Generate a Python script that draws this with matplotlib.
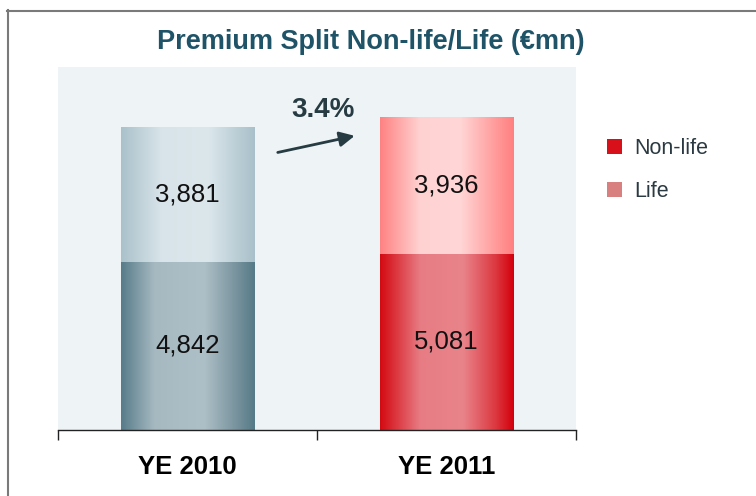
import numpy as np
import matplotlib
matplotlib.use('Agg')
import matplotlib.pyplot as plt
from matplotlib.colors import to_rgb
from matplotlib.patches import Patch
from matplotlib.lines import Line2D

# Data (EUR mn)
years = ['YE 2010', 'YE 2011']
non_life = [4842, 5081]
life = [3881, 3936]
series_names = ['Non-life', 'Life']

TITLE = 'Premium Split Non-life/Life (€mn)'
NARROW = ['Liberation Sans Narrow', 'Liberation Sans', 'DejaVu Sans']
SANS = ['Liberation Sans', 'DejaVu Sans']

# Gradient stops for the cylinder look (position, colour)
GRAD = {
    (0, 0): [(0, '#587C8A'), (0.25, '#A6B9C1'), (0.62, '#AEC0C7'), (0.85, '#7B95A0'), (1, '#567A88')],
    (0, 1): [(0, '#AAC1CB'), (0.3, '#D8E4E9'), (0.65, '#DCE7EC'), (0.88, '#B9CDD5'), (1, '#A9C0CA')],
    (1, 0): [(0, '#D30A12'), (0.3, '#E77C84'), (0.62, '#E9848B'), (0.86, '#DC3A42'), (1, '#D3000C')],
    (1, 1): [(0, '#FF8282'), (0.3, '#FFD2D2'), (0.6, '#FFD6D6'), (0.86, '#FF9C9C'), (1, '#FF8080')],
}
LEGEND_COLORS = ['#D7101A', '#D88080']


def gradient(stops, n=200):
    pos = [p for p, _ in stops]
    cols = np.array([to_rgb(c) for _, c in stops])
    t = np.linspace(0, 1, n)
    row = np.stack([np.interp(t, pos, cols[:, k]) for k in range(3)], axis=-1)
    return row[np.newaxis, :, :]


fig = plt.figure(figsize=(7.56, 4.96), dpi=100)
ax = fig.add_axes([58 / 756, 66 / 496, 518 / 756, 363 / 496])
ax.set_facecolor('#EEF3F6')

x = np.arange(len(years))
width = 0.515
b1 = ax.bar(x, non_life, width, color='none', edgecolor='none')
b2 = ax.bar(x, life, width, bottom=non_life, color='none', edgecolor='none')

# paint each bar segment with a horizontal gradient (cylinder effect)
for s, cont in enumerate([b1, b2]):
    for i, p in enumerate(cont.patches):
        x0, y0 = p.get_x(), p.get_y()
        ax.imshow(gradient(GRAD[(i, s)]), extent=[x0, x0 + p.get_width(), y0, y0 + p.get_height()],
                  aspect='auto', interpolation='bilinear', zorder=2)

for cont in [b1, b2]:
    texts = ax.bar_label(cont, labels=[f'{v:,.0f}' for v in cont.datavalues],
                         label_type='center', fontsize=18.5, family=SANS, color='#111111')
    for t in texts:
        t.set_zorder(5)

ax.set_xlim(-0.5, 1.5)
ax.set_ylim(0, 10450)
ax.set_aspect('auto')

# growth arrow
totals = [a + b for a, b in zip(non_life, life)]
growth = (totals[1] / totals[0] - 1) * 100
ax.annotate('', xy=(0.578, 0.812), xytext=(0.419, 0.763), xycoords='axes fraction',
            arrowprops=dict(arrowstyle='-|>,head_length=0.9,head_width=0.45', color='#263B42', lw=2),
            zorder=6)
ax.text(0.512, 0.882, f'{growth:.1f}%', transform=ax.transAxes, ha='center', va='center',
        fontsize=20, fontweight='bold', family=SANS, color='#263B42')

for sp in ['top', 'right', 'left']:
    ax.spines[sp].set_visible(False)
ax.spines['bottom'].set_color('#222222')
ax.spines['bottom'].set_linewidth(1)
ax.set_yticks([])
ax.set_xticks(x)
ax.set_xticklabels(years, fontsize=18.5, fontweight='bold', family=NARROW)
ax.tick_params(axis='x', which='major', length=0, pad=18)
ax.set_xticks([-0.5, 0.5, 1.5], minor=True)
ax.tick_params(axis='x', which='minor', length=7, width=1, color='#222222', direction='out')

handles = [Patch(facecolor=c, edgecolor='none') for c in LEGEND_COLORS]
fig.legend(handles, series_names, loc='upper left', bbox_to_anchor=(596 / 756, 1 - 127 / 496),
           frameon=False, prop={'family': SANS, 'size': 15.5},
           handlelength=0.7, handleheight=0.7, handletextpad=0.6, labelspacing=1.05,
           borderpad=0, labelcolor='#2B3A42')

fig.text(371 / 756, 1 - 42 / 496, TITLE, ha='center', va='center', fontsize=19.5,
         fontweight='bold', family=NARROW, color='#1F5468')

# frame (only top and left edges visible)
fig.add_artist(Line2D([7 / 756, 1.02], [1 - 10.5 / 496] * 2, transform=fig.transFigure,
                      color='#7A7A7A', lw=1.5))
fig.add_artist(Line2D([7.5 / 756] * 2, [-0.02, 1 - 10 / 496], transform=fig.transFigure,
                      color='#7A7A7A', lw=1.5))

fig.savefig('out.png', dpi=100)
